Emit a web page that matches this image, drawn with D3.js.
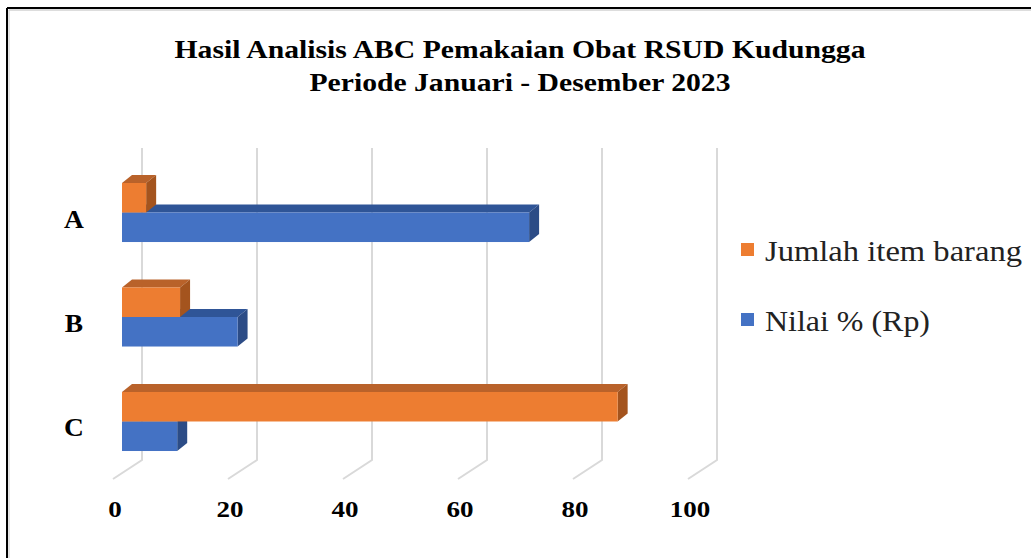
<!DOCTYPE html>
<html><head><meta charset="utf-8">
<script src="https://cdn.jsdelivr.net/npm/d3@7"></script>
<style>body{margin:0;background:#fff}svg{display:block}</style>
</head><body>
<svg id="c" width="1031" height="558"></svg>
<script>
const categories = ["A","B","C"];
const nilai = [70.8, 20.1, 9.6];        // Nilai % (Rp)
const jumlah = [4.2, 10.1, 86.2];       // Jumlah item barang
const ticks = [0,20,40,60,80,100];
const seriesNames = ["Jumlah item barang","Nilai % (Rp)"];
const titleLines = ["Hasil  Analisis  ABC Pemakaian Obat RSUD Kudungga","Periode Januari - Desember 2023"];

const svg = d3.select("#c");
const serif = "'Liberation Serif','Times New Roman',serif";
const colors = {
  orange:{front:"#ED7D31", top:"#B9622A", side:"#A4541E"},
  blue:{front:"#4472C4", top:"#2F5597", side:"#2C4C86"}
};
// frame
svg.append("line").attr("x1",7).attr("y1",8).attr("x2",1031).attr("y2",8).attr("stroke","#000").attr("stroke-width",2);
svg.append("line").attr("x1",7).attr("y1",8).attr("x2",7).attr("y2",558).attr("stroke","#000").attr("stroke-width",2);
svg.append("line").attr("x1",9).attr("y1",10).attr("x2",1031).attr("y2",10).attr("stroke","#bbb").attr("stroke-width",1);
svg.append("line").attr("x1",9).attr("y1",10).attr("x2",9).attr("y2",558).attr("stroke","#ccc").attr("stroke-width",1);

const xBack = d3.scaleLinear().domain([0,100]).range([142,717]);
const xBar = d3.scaleLinear().domain([0,100]).range([122,697]);
const y = d3.scaleBand().domain(categories).range([160,474]).paddingInner(0.435).paddingOuter(0.22);
const floorY = 460, floorDX = -29, floorDY = 19, gridTop = 148;
const dx = 10, dy = -8;

// gridlines
const g = svg.append("g");
ticks.forEach(t=>{
  g.append("polyline")
    .attr("points",`${xBack(t)},${gridTop} ${xBack(t)},${floorY} ${xBack(t)+floorDX},${floorY+floorDY}`)
    .attr("fill","none").attr("stroke","#d9d9d9").attr("stroke-width",2);
});

function stretch(sel, f){
  sel.each(function(){
    const len = this.getComputedTextLength();
    d3.select(this).attr("textLength", len*f).attr("lengthAdjust","spacingAndGlyphs");
  });
}
// tick labels
const tl = svg.append("g").selectAll("text").data(ticks).join("text")
  .attr("x",d=>xBack(d)+floorDX+2).attr("y",517)
  .attr("text-anchor","middle").attr("font-family",serif).attr("font-weight","bold").attr("font-size",23.5)
  .text(d=>d);
stretch(tl,1.15);

// bars
function bar3d(x0, x1, yTop, h, c){
  const gg = svg.append("g");
  gg.append("path").attr("d",`M${x0},${yTop} L${x0+dx},${yTop+dy} L${x1+dx},${yTop+dy} L${x1},${yTop} Z`).attr("fill",c.top);
  gg.append("path").attr("d",`M${x1},${yTop} L${x1+dx},${yTop+dy} L${x1+dx},${yTop+h+dy} L${x1},${yTop+h} Z`).attr("fill",c.side);
  gg.append("rect").attr("x",x0).attr("y",yTop).attr("width",x1-x0).attr("height",h).attr("fill",c.front);
}
const bh = y.bandwidth()/2;
categories.forEach((cat,i)=>{
  const yb = y(cat);
  bar3d(xBar(0), xBar(nilai[i]), yb+bh, bh, colors.blue);
  bar3d(xBar(0), xBar(jumlah[i]), yb, bh, colors.orange);
});

// category labels
const cl = svg.append("g").selectAll("text").data(categories).join("text")
  .attr("x",74).attr("y",d=>y(d)+y.bandwidth()/2+15)
  .attr("text-anchor","middle").attr("font-family",serif).attr("font-weight","bold").attr("font-size",24.5)
  .text(d=>d);
stretch(cl,1.12);

// title
const tt = svg.append("g").selectAll("text").data(titleLines).join("text")
  .attr("x",520).attr("y",(d,i)=>58+i*33)
  .attr("text-anchor","middle").attr("font-family",serif).attr("font-weight","bold").attr("font-size",24.5)
  .text(d=>d);
tt.attr("textLength",(d,i)=>[691,421][i]).attr("lengthAdjust","spacingAndGlyphs");

// legend
const legColors = [colors.orange.front, colors.blue.front];
const lg = svg.append("g");
const legW = [257, 165];
seriesNames.forEach((n,i)=>{
  const yy = 243 + i*70;
  lg.append("rect").attr("x",741).attr("y",yy).attr("width",13).attr("height",13).attr("fill",legColors[i]);
  lg.append("text").attr("x",765).attr("y",yy+18).attr("font-family",serif).attr("font-size",28.5)
    .attr("fill","#222").attr("textLength",legW[i]).attr("lengthAdjust","spacingAndGlyphs").text(n);
});
</script>
</body></html>
